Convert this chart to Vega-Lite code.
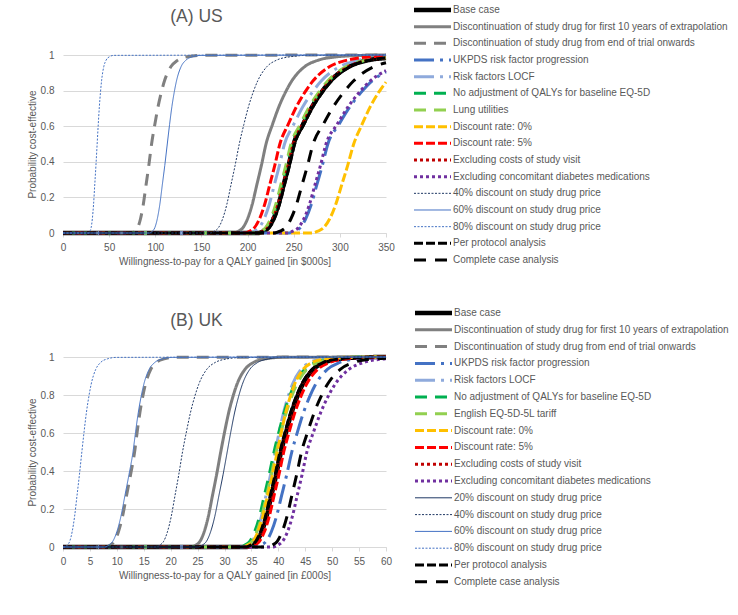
{
"$schema": "https://vega.github.io/schema/vega-lite/v6.json",
"background": "white",
"padding": {"left": 27, "top": 5, "right": 0, "bottom": 0},
"config": {
 "font": "Liberation Sans",
 "view": {"stroke": null},
 "axis": {"labelColor": "#595959", "titleColor": "#595959", "labelFont": "Liberation Sans", "titleFont": "Liberation Sans", "labelFontSize": 10, "titleFontSize": 10, "titleFontWeight": "normal", "gridColor": "#D9D9D9", "domainColor": "#D9D9D9", "tickColor": "#D9D9D9", "labelFlush": false},
 "title": {"color": "#595959", "fontSize": 17.5, "fontWeight": "normal", "font": "Liberation Sans"},
 "text": {"font": "Liberation Sans"},
 "line": {"interpolate": "monotone", "clip": true}
},
"datasets": {
"legA": [
{"k":"base","t":"Base case"},
{"k":"d10","t":"Discontinuation of study drug for first 10 years of extrapolation"},
{"k":"dend","t":"Discontinuation of study drug from end of trial onwards"},
{"k":"ukpds","t":"UKPDS risk factor progression"},
{"k":"locf","t":"Risk factors LOCF"},
{"k":"noadj","t":"No adjustment of QALYs for baseline EQ-5D"},
{"k":"lung","t":"Lung utilities"},
{"k":"dr0","t":"Discount rate: 0%"},
{"k":"dr5","t":"Discount rate: 5%"},
{"k":"exvis","t":"Excluding costs of study visit"},
{"k":"excon","t":"Excluding concomitant diabetes medications"},
{"k":"d40","t":"40% discount on study drug price"},
{"k":"d60","t":"60% discount on study drug price"},
{"k":"d80","t":"80% discount on study drug price"},
{"k":"pp","t":"Per protocol analysis"},
{"k":"cc","t":"Complete case analysis"}
],
"legB": [
{"k":"base","t":"Base case"},
{"k":"d10","t":"Discontinuation of study drug for first 10 years of extrapolation"},
{"k":"dend","t":"Discontinuation of study drug from end of trial onwards"},
{"k":"ukpds","t":"UKPDS risk factor progression"},
{"k":"locf","t":"Risk factors LOCF"},
{"k":"noadj","t":"No adjustment of QALYs for baseline EQ-5D"},
{"k":"eng","t":"English EQ-5D-5L tariff"},
{"k":"dr0","t":"Discount rate: 0%"},
{"k":"dr5","t":"Discount rate: 5%"},
{"k":"exvis","t":"Excluding costs of study visit"},
{"k":"excon","t":"Excluding concomitant diabetes medications"},
{"k":"d20","t":"20% discount on study drug price"},
{"k":"d40","t":"40% discount on study drug price"},
{"k":"d60","t":"60% discount on study drug price"},
{"k":"d80","t":"80% discount on study drug price"},
{"k":"pp","t":"Per protocol analysis"},
{"k":"cc","t":"Complete case analysis"}
],
"A": [
{"k":"base","x":0,"y":0},{"k":"base","x":211.5,"y":0},{"k":"base","x":217,"y":0.01},{"k":"base","x":222.5,"y":0.03},{"k":"base","x":228,"y":0.08},{"k":"base","x":233.5,"y":0.16},{"k":"base","x":239,"y":0.27},{"k":"base","x":244.5,"y":0.38},{"k":"base","x":250,"y":0.5},{"k":"base","x":260,"y":0.61},{"k":"base","x":270,"y":0.71},{"k":"base","x":280,"y":0.79},{"k":"base","x":290,"y":0.855},{"k":"base","x":310,"y":0.935},{"k":"base","x":330,"y":0.97},{"k":"base","x":350,"y":0.983},
{"k":"d10","x":0,"y":0},{"k":"d10","x":185,"y":0},{"k":"d10","x":190,"y":0.01},{"k":"d10","x":195,"y":0.03},{"k":"d10","x":200,"y":0.08},{"k":"d10","x":205,"y":0.16},{"k":"d10","x":210,"y":0.27},{"k":"d10","x":215,"y":0.38},{"k":"d10","x":220,"y":0.5},{"k":"d10","x":227,"y":0.61},{"k":"d10","x":234,"y":0.71},{"k":"d10","x":241,"y":0.79},{"k":"d10","x":248,"y":0.855},{"k":"d10","x":262,"y":0.935},{"k":"d10","x":276,"y":0.97},{"k":"d10","x":297,"y":0.99},{"k":"d10","x":325,"y":0.998},{"k":"d10","x":350,"y":1},
{"k":"dend","x":0,"y":0},{"k":"dend","x":75,"y":0},{"k":"dend","x":78,"y":0.01},{"k":"dend","x":81,"y":0.03},{"k":"dend","x":84,"y":0.08},{"k":"dend","x":87,"y":0.16},{"k":"dend","x":90,"y":0.27},{"k":"dend","x":93,"y":0.38},{"k":"dend","x":96,"y":0.5},{"k":"dend","x":99.5,"y":0.61},{"k":"dend","x":103,"y":0.71},{"k":"dend","x":106.5,"y":0.79},{"k":"dend","x":110,"y":0.855},{"k":"dend","x":117,"y":0.935},{"k":"dend","x":124,"y":0.97},{"k":"dend","x":134.5,"y":0.99},{"k":"dend","x":148.5,"y":0.998},{"k":"dend","x":350,"y":1},
{"k":"ukpds","x":0,"y":0},{"k":"ukpds","x":245,"y":0},{"k":"ukpds","x":251,"y":0.01},{"k":"ukpds","x":257,"y":0.03},{"k":"ukpds","x":263,"y":0.08},{"k":"ukpds","x":269,"y":0.16},{"k":"ukpds","x":275,"y":0.27},{"k":"ukpds","x":281,"y":0.38},{"k":"ukpds","x":287,"y":0.5},{"k":"ukpds","x":299,"y":0.61},{"k":"ukpds","x":311,"y":0.71},{"k":"ukpds","x":323,"y":0.79},{"k":"ukpds","x":335,"y":0.855},{"k":"ukpds","x":350,"y":0.905},
{"k":"locf","x":0,"y":0},{"k":"locf","x":201.5,"y":0},{"k":"locf","x":207,"y":0.01},{"k":"locf","x":212.5,"y":0.03},{"k":"locf","x":218,"y":0.08},{"k":"locf","x":223.5,"y":0.16},{"k":"locf","x":229,"y":0.27},{"k":"locf","x":234.5,"y":0.38},{"k":"locf","x":240,"y":0.5},{"k":"locf","x":250,"y":0.61},{"k":"locf","x":260,"y":0.71},{"k":"locf","x":270,"y":0.79},{"k":"locf","x":280,"y":0.855},{"k":"locf","x":300,"y":0.935},{"k":"locf","x":320,"y":0.97},{"k":"locf","x":350,"y":0.99},
{"k":"noadj","x":0,"y":0},{"k":"noadj","x":209.5,"y":0},{"k":"noadj","x":215,"y":0.01},{"k":"noadj","x":220.5,"y":0.03},{"k":"noadj","x":226,"y":0.08},{"k":"noadj","x":231.5,"y":0.16},{"k":"noadj","x":237,"y":0.27},{"k":"noadj","x":242.5,"y":0.38},{"k":"noadj","x":248,"y":0.5},{"k":"noadj","x":258,"y":0.61},{"k":"noadj","x":268,"y":0.71},{"k":"noadj","x":278,"y":0.79},{"k":"noadj","x":288,"y":0.855},{"k":"noadj","x":308,"y":0.935},{"k":"noadj","x":328,"y":0.97},{"k":"noadj","x":350,"y":0.985},
{"k":"lung","x":0,"y":0},{"k":"lung","x":208.5,"y":0},{"k":"lung","x":214,"y":0.01},{"k":"lung","x":219.5,"y":0.03},{"k":"lung","x":225,"y":0.08},{"k":"lung","x":230.5,"y":0.16},{"k":"lung","x":236,"y":0.27},{"k":"lung","x":241.5,"y":0.38},{"k":"lung","x":247,"y":0.5},{"k":"lung","x":257,"y":0.61},{"k":"lung","x":267,"y":0.71},{"k":"lung","x":277,"y":0.79},{"k":"lung","x":287,"y":0.855},{"k":"lung","x":307,"y":0.935},{"k":"lung","x":327,"y":0.97},{"k":"lung","x":350,"y":0.985},
{"k":"dr0","x":0,"y":0},{"k":"dr0","x":269.5,"y":0},{"k":"dr0","x":276,"y":0.01},{"k":"dr0","x":282.5,"y":0.03},{"k":"dr0","x":289,"y":0.08},{"k":"dr0","x":295.5,"y":0.16},{"k":"dr0","x":302,"y":0.27},{"k":"dr0","x":308.5,"y":0.38},{"k":"dr0","x":315,"y":0.5},{"k":"dr0","x":324,"y":0.61},{"k":"dr0","x":333,"y":0.71},{"k":"dr0","x":342,"y":0.79},{"k":"dr0","x":350,"y":0.848},
{"k":"dr5","x":0,"y":0},{"k":"dr5","x":196.5,"y":0},{"k":"dr5","x":202,"y":0.01},{"k":"dr5","x":207.5,"y":0.03},{"k":"dr5","x":213,"y":0.08},{"k":"dr5","x":218.5,"y":0.16},{"k":"dr5","x":224,"y":0.27},{"k":"dr5","x":229.5,"y":0.38},{"k":"dr5","x":235,"y":0.5},{"k":"dr5","x":244,"y":0.61},{"k":"dr5","x":253,"y":0.71},{"k":"dr5","x":262,"y":0.79},{"k":"dr5","x":271,"y":0.855},{"k":"dr5","x":289,"y":0.935},{"k":"dr5","x":307,"y":0.97},{"k":"dr5","x":334,"y":0.99},{"k":"dr5","x":350,"y":0.994},
{"k":"exvis","x":0,"y":0},{"k":"exvis","x":211,"y":0},{"k":"exvis","x":216.5,"y":0.01},{"k":"exvis","x":222,"y":0.03},{"k":"exvis","x":227.5,"y":0.08},{"k":"exvis","x":233,"y":0.16},{"k":"exvis","x":238.5,"y":0.27},{"k":"exvis","x":244,"y":0.38},{"k":"exvis","x":249.5,"y":0.5},{"k":"exvis","x":259.5,"y":0.61},{"k":"exvis","x":269.5,"y":0.71},{"k":"exvis","x":279.5,"y":0.79},{"k":"exvis","x":289.5,"y":0.855},{"k":"exvis","x":309.5,"y":0.935},{"k":"exvis","x":329.5,"y":0.97},{"k":"exvis","x":350,"y":0.984},
{"k":"excon","x":0,"y":0},{"k":"excon","x":243,"y":0},{"k":"excon","x":249,"y":0.01},{"k":"excon","x":255,"y":0.03},{"k":"excon","x":261,"y":0.08},{"k":"excon","x":267,"y":0.16},{"k":"excon","x":273,"y":0.27},{"k":"excon","x":279,"y":0.38},{"k":"excon","x":285,"y":0.5},{"k":"excon","x":297,"y":0.61},{"k":"excon","x":309,"y":0.71},{"k":"excon","x":321,"y":0.79},{"k":"excon","x":333,"y":0.855},{"k":"excon","x":350,"y":0.912},
{"k":"d40","x":0,"y":0},{"k":"d40","x":159.5,"y":0},{"k":"d40","x":164,"y":0.01},{"k":"d40","x":168.5,"y":0.03},{"k":"d40","x":173,"y":0.08},{"k":"d40","x":177.5,"y":0.16},{"k":"d40","x":182,"y":0.27},{"k":"d40","x":186.5,"y":0.38},{"k":"d40","x":191,"y":0.5},{"k":"d40","x":196,"y":0.61},{"k":"d40","x":201,"y":0.71},{"k":"d40","x":206,"y":0.79},{"k":"d40","x":211,"y":0.855},{"k":"d40","x":221,"y":0.935},{"k":"d40","x":231,"y":0.97},{"k":"d40","x":246,"y":0.99},{"k":"d40","x":266,"y":0.998},{"k":"d40","x":350,"y":1},
{"k":"d60","x":0,"y":0},{"k":"d60","x":94.1,"y":0},{"k":"d60","x":96.8,"y":0.01},{"k":"d60","x":99.5,"y":0.03},{"k":"d60","x":102.2,"y":0.08},{"k":"d60","x":104.9,"y":0.16},{"k":"d60","x":107.6,"y":0.27},{"k":"d60","x":110.3,"y":0.38},{"k":"d60","x":113,"y":0.5},{"k":"d60","x":115.5,"y":0.61},{"k":"d60","x":118,"y":0.71},{"k":"d60","x":120.5,"y":0.79},{"k":"d60","x":123,"y":0.855},{"k":"d60","x":128,"y":0.935},{"k":"d60","x":133,"y":0.97},{"k":"d60","x":140.5,"y":0.99},{"k":"d60","x":150.5,"y":0.998},{"k":"d60","x":350,"y":1},
{"k":"d80","x":0,"y":0},{"k":"d80","x":27.9,"y":0},{"k":"d80","x":29.2,"y":0.01},{"k":"d80","x":30.5,"y":0.03},{"k":"d80","x":31.8,"y":0.08},{"k":"d80","x":33.1,"y":0.16},{"k":"d80","x":34.4,"y":0.27},{"k":"d80","x":35.7,"y":0.38},{"k":"d80","x":37,"y":0.5},{"k":"d80","x":38.2,"y":0.61},{"k":"d80","x":39.4,"y":0.71},{"k":"d80","x":40.6,"y":0.79},{"k":"d80","x":41.8,"y":0.855},{"k":"d80","x":44.2,"y":0.935},{"k":"d80","x":46.6,"y":0.97},{"k":"d80","x":50.2,"y":0.99},{"k":"d80","x":55,"y":0.998},{"k":"d80","x":350,"y":1},
{"k":"pp","x":0,"y":0},{"k":"pp","x":212.5,"y":0},{"k":"pp","x":218,"y":0.01},{"k":"pp","x":223.5,"y":0.03},{"k":"pp","x":229,"y":0.08},{"k":"pp","x":234.5,"y":0.16},{"k":"pp","x":240,"y":0.27},{"k":"pp","x":245.5,"y":0.38},{"k":"pp","x":251,"y":0.5},{"k":"pp","x":261,"y":0.61},{"k":"pp","x":271,"y":0.71},{"k":"pp","x":281,"y":0.79},{"k":"pp","x":291,"y":0.855},{"k":"pp","x":311,"y":0.935},{"k":"pp","x":331,"y":0.97},{"k":"pp","x":350,"y":0.983},
{"k":"cc","x":0,"y":0},{"k":"cc","x":229,"y":0},{"k":"cc","x":235,"y":0.01},{"k":"cc","x":241,"y":0.03},{"k":"cc","x":247,"y":0.08},{"k":"cc","x":253,"y":0.16},{"k":"cc","x":259,"y":0.27},{"k":"cc","x":265,"y":0.38},{"k":"cc","x":271,"y":0.5},{"k":"cc","x":282,"y":0.61},{"k":"cc","x":293,"y":0.71},{"k":"cc","x":304,"y":0.79},{"k":"cc","x":315,"y":0.855},{"k":"cc","x":337,"y":0.935},{"k":"cc","x":350,"y":0.956}
],
"B": [
{"k":"base","x":0,"y":0},{"k":"base","x":34.2,"y":0},{"k":"base","x":35.1,"y":0.01},{"k":"base","x":36,"y":0.03},{"k":"base","x":36.9,"y":0.08},{"k":"base","x":37.8,"y":0.16},{"k":"base","x":38.7,"y":0.27},{"k":"base","x":39.6,"y":0.38},{"k":"base","x":40.5,"y":0.5},{"k":"base","x":41.5,"y":0.61},{"k":"base","x":42.5,"y":0.71},{"k":"base","x":43.5,"y":0.79},{"k":"base","x":44.5,"y":0.855},{"k":"base","x":46.5,"y":0.935},{"k":"base","x":48.5,"y":0.97},{"k":"base","x":51.5,"y":0.99},{"k":"base","x":55.5,"y":0.998},{"k":"base","x":60,"y":1},
{"k":"d10","x":0,"y":0},{"k":"d10","x":23.91,"y":0},{"k":"d10","x":24.68,"y":0.01},{"k":"d10","x":25.45,"y":0.03},{"k":"d10","x":26.22,"y":0.08},{"k":"d10","x":26.99,"y":0.16},{"k":"d10","x":27.76,"y":0.27},{"k":"d10","x":28.53,"y":0.38},{"k":"d10","x":29.3,"y":0.5},{"k":"d10","x":30.05,"y":0.61},{"k":"d10","x":30.8,"y":0.71},{"k":"d10","x":31.55,"y":0.79},{"k":"d10","x":32.3,"y":0.855},{"k":"d10","x":33.8,"y":0.935},{"k":"d10","x":35.3,"y":0.97},{"k":"d10","x":37.55,"y":0.99},{"k":"d10","x":40.55,"y":0.998},{"k":"d10","x":60,"y":1},
{"k":"dend","x":0,"y":0},{"k":"dend","x":8.05,"y":0},{"k":"dend","x":8.8,"y":0.01},{"k":"dend","x":9.55,"y":0.03},{"k":"dend","x":10.3,"y":0.08},{"k":"dend","x":11.05,"y":0.16},{"k":"dend","x":11.8,"y":0.27},{"k":"dend","x":12.55,"y":0.38},{"k":"dend","x":13.3,"y":0.5},{"k":"dend","x":13.8,"y":0.61},{"k":"dend","x":14.3,"y":0.71},{"k":"dend","x":14.8,"y":0.79},{"k":"dend","x":15.3,"y":0.855},{"k":"dend","x":16.3,"y":0.935},{"k":"dend","x":17.3,"y":0.97},{"k":"dend","x":18.8,"y":0.99},{"k":"dend","x":20.8,"y":0.998},{"k":"dend","x":60,"y":1},
{"k":"ukpds","x":0,"y":0},{"k":"ukpds","x":35.85,"y":0},{"k":"ukpds","x":36.8,"y":0.01},{"k":"ukpds","x":37.75,"y":0.03},{"k":"ukpds","x":38.7,"y":0.08},{"k":"ukpds","x":39.65,"y":0.16},{"k":"ukpds","x":40.6,"y":0.27},{"k":"ukpds","x":41.55,"y":0.38},{"k":"ukpds","x":42.5,"y":0.5},{"k":"ukpds","x":43.6,"y":0.61},{"k":"ukpds","x":44.7,"y":0.71},{"k":"ukpds","x":45.8,"y":0.79},{"k":"ukpds","x":46.9,"y":0.855},{"k":"ukpds","x":49.1,"y":0.935},{"k":"ukpds","x":51.3,"y":0.97},{"k":"ukpds","x":54.6,"y":0.99},{"k":"ukpds","x":59,"y":0.998},{"k":"ukpds","x":60,"y":1},
{"k":"locf","x":0,"y":0},{"k":"locf","x":33.45,"y":0},{"k":"locf","x":34.3,"y":0.01},{"k":"locf","x":35.15,"y":0.03},{"k":"locf","x":36,"y":0.08},{"k":"locf","x":36.85,"y":0.16},{"k":"locf","x":37.7,"y":0.27},{"k":"locf","x":38.55,"y":0.38},{"k":"locf","x":39.4,"y":0.5},{"k":"locf","x":40.2,"y":0.61},{"k":"locf","x":41,"y":0.71},{"k":"locf","x":41.8,"y":0.79},{"k":"locf","x":42.6,"y":0.855},{"k":"locf","x":44.2,"y":0.935},{"k":"locf","x":45.8,"y":0.97},{"k":"locf","x":48.2,"y":0.99},{"k":"locf","x":51.4,"y":0.998},{"k":"locf","x":60,"y":1},
{"k":"noadj","x":0,"y":0},{"k":"noadj","x":32.9,"y":0},{"k":"noadj","x":33.8,"y":0.01},{"k":"noadj","x":34.7,"y":0.03},{"k":"noadj","x":35.6,"y":0.08},{"k":"noadj","x":36.5,"y":0.16},{"k":"noadj","x":37.4,"y":0.27},{"k":"noadj","x":38.3,"y":0.38},{"k":"noadj","x":39.2,"y":0.5},{"k":"noadj","x":40.15,"y":0.61},{"k":"noadj","x":41.1,"y":0.71},{"k":"noadj","x":42.05,"y":0.79},{"k":"noadj","x":43,"y":0.855},{"k":"noadj","x":44.9,"y":0.935},{"k":"noadj","x":46.8,"y":0.97},{"k":"noadj","x":49.65,"y":0.99},{"k":"noadj","x":53.45,"y":0.998},{"k":"noadj","x":60,"y":1},
{"k":"eng","x":0,"y":0},{"k":"eng","x":33.3,"y":0},{"k":"eng","x":34.2,"y":0.01},{"k":"eng","x":35.1,"y":0.03},{"k":"eng","x":36,"y":0.08},{"k":"eng","x":36.9,"y":0.16},{"k":"eng","x":37.8,"y":0.27},{"k":"eng","x":38.7,"y":0.38},{"k":"eng","x":39.6,"y":0.5},{"k":"eng","x":40.55,"y":0.61},{"k":"eng","x":41.5,"y":0.71},{"k":"eng","x":42.45,"y":0.79},{"k":"eng","x":43.4,"y":0.855},{"k":"eng","x":45.3,"y":0.935},{"k":"eng","x":47.2,"y":0.97},{"k":"eng","x":50.05,"y":0.99},{"k":"eng","x":53.85,"y":0.998},{"k":"eng","x":60,"y":1},
{"k":"dr0","x":0,"y":0},{"k":"dr0","x":33.5,"y":0},{"k":"dr0","x":34.4,"y":0.01},{"k":"dr0","x":35.3,"y":0.03},{"k":"dr0","x":36.2,"y":0.08},{"k":"dr0","x":37.1,"y":0.16},{"k":"dr0","x":38,"y":0.27},{"k":"dr0","x":38.9,"y":0.38},{"k":"dr0","x":39.8,"y":0.5},{"k":"dr0","x":40.6,"y":0.61},{"k":"dr0","x":41.4,"y":0.71},{"k":"dr0","x":42.2,"y":0.79},{"k":"dr0","x":43,"y":0.855},{"k":"dr0","x":44.6,"y":0.935},{"k":"dr0","x":46.2,"y":0.97},{"k":"dr0","x":48.6,"y":0.99},{"k":"dr0","x":51.8,"y":0.998},{"k":"dr0","x":60,"y":1},
{"k":"dr5","x":0,"y":0},{"k":"dr5","x":34.7,"y":0},{"k":"dr5","x":35.6,"y":0.01},{"k":"dr5","x":36.5,"y":0.03},{"k":"dr5","x":37.4,"y":0.08},{"k":"dr5","x":38.3,"y":0.16},{"k":"dr5","x":39.2,"y":0.27},{"k":"dr5","x":40.1,"y":0.38},{"k":"dr5","x":41,"y":0.5},{"k":"dr5","x":42.05,"y":0.61},{"k":"dr5","x":43.1,"y":0.71},{"k":"dr5","x":44.15,"y":0.79},{"k":"dr5","x":45.2,"y":0.855},{"k":"dr5","x":47.3,"y":0.935},{"k":"dr5","x":49.4,"y":0.97},{"k":"dr5","x":52.55,"y":0.99},{"k":"dr5","x":56.75,"y":0.998},{"k":"dr5","x":60,"y":1},
{"k":"exvis","x":0,"y":0},{"k":"exvis","x":34.1,"y":0},{"k":"exvis","x":35,"y":0.01},{"k":"exvis","x":35.9,"y":0.03},{"k":"exvis","x":36.8,"y":0.08},{"k":"exvis","x":37.7,"y":0.16},{"k":"exvis","x":38.6,"y":0.27},{"k":"exvis","x":39.5,"y":0.38},{"k":"exvis","x":40.4,"y":0.5},{"k":"exvis","x":41.4,"y":0.61},{"k":"exvis","x":42.4,"y":0.71},{"k":"exvis","x":43.4,"y":0.79},{"k":"exvis","x":44.4,"y":0.855},{"k":"exvis","x":46.4,"y":0.935},{"k":"exvis","x":48.4,"y":0.97},{"k":"exvis","x":51.4,"y":0.99},{"k":"exvis","x":55.4,"y":0.998},{"k":"exvis","x":60,"y":1},
{"k":"excon","x":0,"y":0},{"k":"excon","x":39,"y":0},{"k":"excon","x":39.9,"y":0.01},{"k":"excon","x":40.8,"y":0.03},{"k":"excon","x":41.7,"y":0.08},{"k":"excon","x":42.6,"y":0.16},{"k":"excon","x":43.5,"y":0.27},{"k":"excon","x":44.4,"y":0.38},{"k":"excon","x":45.3,"y":0.5},{"k":"excon","x":46.6,"y":0.61},{"k":"excon","x":47.9,"y":0.71},{"k":"excon","x":49.2,"y":0.79},{"k":"excon","x":50.5,"y":0.855},{"k":"excon","x":53.1,"y":0.935},{"k":"excon","x":55.7,"y":0.97},{"k":"excon","x":59.6,"y":0.99},{"k":"excon","x":60,"y":0.991},
{"k":"d20","x":0,"y":0},{"k":"d20","x":25.11,"y":0},{"k":"d20","x":25.88,"y":0.01},{"k":"d20","x":26.65,"y":0.03},{"k":"d20","x":27.42,"y":0.08},{"k":"d20","x":28.19,"y":0.16},{"k":"d20","x":28.96,"y":0.27},{"k":"d20","x":29.73,"y":0.38},{"k":"d20","x":30.5,"y":0.5},{"k":"d20","x":31.2,"y":0.61},{"k":"d20","x":31.9,"y":0.71},{"k":"d20","x":32.6,"y":0.79},{"k":"d20","x":33.3,"y":0.855},{"k":"d20","x":34.7,"y":0.935},{"k":"d20","x":36.1,"y":0.97},{"k":"d20","x":38.2,"y":0.99},{"k":"d20","x":41,"y":0.998},{"k":"d20","x":60,"y":1},
{"k":"d40","x":0,"y":0},{"k":"d40","x":17.3,"y":0},{"k":"d40","x":18,"y":0.01},{"k":"d40","x":18.7,"y":0.03},{"k":"d40","x":19.4,"y":0.08},{"k":"d40","x":20.1,"y":0.16},{"k":"d40","x":20.8,"y":0.27},{"k":"d40","x":21.5,"y":0.38},{"k":"d40","x":22.2,"y":0.5},{"k":"d40","x":22.95,"y":0.61},{"k":"d40","x":23.7,"y":0.71},{"k":"d40","x":24.45,"y":0.79},{"k":"d40","x":25.2,"y":0.855},{"k":"d40","x":26.7,"y":0.935},{"k":"d40","x":28.2,"y":0.97},{"k":"d40","x":30.45,"y":0.99},{"k":"d40","x":33.45,"y":0.998},{"k":"d40","x":60,"y":1},
{"k":"d60","x":0,"y":0},{"k":"d60","x":7.75,"y":0},{"k":"d60","x":8.5,"y":0.01},{"k":"d60","x":9.25,"y":0.03},{"k":"d60","x":10,"y":0.08},{"k":"d60","x":10.75,"y":0.16},{"k":"d60","x":11.5,"y":0.27},{"k":"d60","x":12.25,"y":0.38},{"k":"d60","x":13,"y":0.5},{"k":"d60","x":13.5,"y":0.61},{"k":"d60","x":14,"y":0.71},{"k":"d60","x":14.5,"y":0.79},{"k":"d60","x":15,"y":0.855},{"k":"d60","x":16,"y":0.935},{"k":"d60","x":17,"y":0.97},{"k":"d60","x":18.5,"y":0.99},{"k":"d60","x":20.5,"y":0.998},{"k":"d60","x":60,"y":1},
{"k":"d80","x":0,"y":0},{"k":"d80","x":0.35,"y":0},{"k":"d80","x":0.8,"y":0.01},{"k":"d80","x":1.25,"y":0.03},{"k":"d80","x":1.7,"y":0.08},{"k":"d80","x":2.15,"y":0.16},{"k":"d80","x":2.6,"y":0.27},{"k":"d80","x":3.05,"y":0.38},{"k":"d80","x":3.5,"y":0.5},{"k":"d80","x":3.93,"y":0.61},{"k":"d80","x":4.36,"y":0.71},{"k":"d80","x":4.79,"y":0.79},{"k":"d80","x":5.22,"y":0.855},{"k":"d80","x":6.08,"y":0.935},{"k":"d80","x":6.94,"y":0.97},{"k":"d80","x":8.23,"y":0.99},{"k":"d80","x":9.95,"y":0.998},{"k":"d80","x":60,"y":1},
{"k":"pp","x":0,"y":0},{"k":"pp","x":34,"y":0},{"k":"pp","x":34.9,"y":0.01},{"k":"pp","x":35.8,"y":0.03},{"k":"pp","x":36.7,"y":0.08},{"k":"pp","x":37.6,"y":0.16},{"k":"pp","x":38.5,"y":0.27},{"k":"pp","x":39.4,"y":0.38},{"k":"pp","x":40.3,"y":0.5},{"k":"pp","x":41.3,"y":0.61},{"k":"pp","x":42.3,"y":0.71},{"k":"pp","x":43.3,"y":0.79},{"k":"pp","x":44.3,"y":0.855},{"k":"pp","x":46.3,"y":0.935},{"k":"pp","x":48.3,"y":0.97},{"k":"pp","x":51.3,"y":0.99},{"k":"pp","x":55.3,"y":0.998},{"k":"pp","x":60,"y":1},
{"k":"cc","x":0,"y":0},{"k":"cc","x":38,"y":0},{"k":"cc","x":38.9,"y":0.01},{"k":"cc","x":39.8,"y":0.03},{"k":"cc","x":40.7,"y":0.08},{"k":"cc","x":41.6,"y":0.16},{"k":"cc","x":42.5,"y":0.27},{"k":"cc","x":43.4,"y":0.38},{"k":"cc","x":44.3,"y":0.5},{"k":"cc","x":45.5,"y":0.61},{"k":"cc","x":46.7,"y":0.71},{"k":"cc","x":47.9,"y":0.79},{"k":"cc","x":49.1,"y":0.855},{"k":"cc","x":51.5,"y":0.935},{"k":"cc","x":53.9,"y":0.97},{"k":"cc","x":57.5,"y":0.99},{"k":"cc","x":60,"y":0.994}
]
},
"spacing": 42,
"resolve": {"scale": {"x": "independent", "y": "independent", "color": "independent", "strokeDash": "independent"}},
"vconcat": [
{
 "spacing": 16,
 "resolve": {"scale": {"x": "independent", "y": "independent", "color": "independent", "strokeDash": "independent"}},
 "hconcat": [
  {
   "width": 323, "height": 178,
   "title": {"text": "(A) US", "offset": 23.5, "frame": "group", "anchor": "middle", "dx": -28},
   "data": {"name": "A"},
   "encoding": {
    "x": {"field": "x", "type": "quantitative", "scale": {"domain": [0, 350], "nice": false}, "axis": {"values": [0,50,100,150,200,250,300,350], "grid": false, "tickSize": 4, "labelPadding": 5, "titlePadding": 4, "title": "Willingness-to-pay for a QALY gained [in $000s]"}},
    "y": {"field": "y", "type": "quantitative", "scale": {"domain": [0, 1], "nice": false}, "axis": {"values": [0,0.2,0.4,0.6,0.8,1], "format": "~g", "grid": true, "domain": false, "ticks": false, "labelPadding": 9, "titlePadding": 3, "title": "Probability cost-effective"}},
    "color": {"field": "k", "type": "nominal", "legend": null, "scale": {"domain": ["base","d10","dend","ukpds","locf","noadj","lung","eng","dr0","dr5","exvis","excon","d20","d40","d60","d80","pp","cc"], "range": ["#000000","#808080","#808080","#4472C4","#8FAADC","#00B050","#92D050","#92D050","#FFC000","#FF0000","#C00000","#7030A0","#1F3864","#1F3864","#4472C4","#4472C4","#000000","#000000"]}},
    "strokeDash": {"field": "k", "type": "nominal", "legend": null, "scale": {"domain": ["base","d10","dend","ukpds","locf","noadj","lung","eng","dr0","dr5","exvis","excon","d20","d40","d60","d80","pp","cc"], "range": [[1,0],[1,0],[12,8],[20,6,3,6],[20,6,3,6],[12,8],[12,8],[12,8],[9,3],[9,3],[3,3],[3,3],[1,0],[2,1.5],[1,0],[2,1.5],[9,3],[12,9]]}}
   },
   "layer": [
    {"transform": [{"filter": "datum.k === 'base'"}], "mark": {"type": "line", "strokeWidth": 4.5}},
    {"transform": [{"filter": {"field": "k", "oneOf": ["d10","dend","ukpds","locf","noadj","lung","eng","dr0","dr5","exvis","excon","pp","cc"]}}], "mark": {"type": "line", "strokeWidth": 3}},
    {"transform": [{"filter": {"field": "k", "oneOf": ["d20","d40","d60","d80"]}}], "mark": {"type": "line", "strokeWidth": 1}}
   ]
  },
  {
   "width": 37, "height": 178,
   "data": {"name": "legA"},
   "encoding": {
    "y": {"field": "k", "type": "nominal", "axis": null, "scale": {"domain": ["base","d10","dend","ukpds","locf","noadj","lung","dr0","dr5","exvis","excon","d40","d60","d80","pp","cc"], "range": [-53.33, 213.33]}},
    "x": {"datum": 0, "type": "quantitative", "scale": {"domain": [0, 1], "nice": false}, "axis": null}
   },
   "layer": [
    {"transform": [{"filter": "datum.k === 'base'"}], "mark": {"type": "rule", "strokeWidth": 4.5},
     "encoding": {"x2": {"datum": 1},
      "color": {"field": "k", "type": "nominal", "legend": null, "scale": {"domain": ["base","d10","dend","ukpds","locf","noadj","lung","eng","dr0","dr5","exvis","excon","d20","d40","d60","d80","pp","cc"], "range": ["#000000","#808080","#808080","#4472C4","#8FAADC","#00B050","#92D050","#92D050","#FFC000","#FF0000","#C00000","#7030A0","#1F3864","#1F3864","#4472C4","#4472C4","#000000","#000000"]}},
      "strokeDash": {"field": "k", "type": "nominal", "legend": null, "scale": {"domain": ["base","d10","dend","ukpds","locf","noadj","lung","eng","dr0","dr5","exvis","excon","d20","d40","d60","d80","pp","cc"], "range": [[1,0],[1,0],[12,8],[20,6,3,6],[20,6,3,6],[12,8],[12,8],[12,8],[9,3],[9,3],[3,3],[3,3],[1,0],[2,1.5],[1,0],[2,1.5],[9,3],[12,9]]}}}},
    {"transform": [{"filter": {"field": "k", "oneOf": ["d10","dend","ukpds","locf","noadj","lung","eng","dr0","dr5","exvis","excon","pp","cc"]}}], "mark": {"type": "rule", "strokeWidth": 3},
     "encoding": {"x2": {"datum": 1},
      "color": {"field": "k", "type": "nominal", "legend": null},
      "strokeDash": {"field": "k", "type": "nominal", "legend": null}}},
    {"transform": [{"filter": {"field": "k", "oneOf": ["d20","d40","d60","d80"]}}], "mark": {"type": "rule", "strokeWidth": 1},
     "encoding": {"x2": {"datum": 1},
      "color": {"field": "k", "type": "nominal", "legend": null},
      "strokeDash": {"field": "k", "type": "nominal", "legend": null}}},
    {"mark": {"type": "text", "align": "left", "baseline": "middle", "dx": 2, "fontSize": 10, "color": "#595959"},
     "encoding": {"x": {"datum": 1, "type": "quantitative"}, "text": {"field": "t"}}}
   ]
  }
 ]
},
{
 "spacing": 17,
 "resolve": {"scale": {"x": "independent", "y": "independent", "color": "independent", "strokeDash": "independent"}},
 "hconcat": [
  {
   "width": 323, "height": 190,
   "title": {"text": "(B) UK", "offset": 18.5, "frame": "group", "anchor": "middle", "dx": -28},
   "data": {"name": "B"},
   "encoding": {
    "x": {"field": "x", "type": "quantitative", "scale": {"domain": [0, 60], "nice": false}, "axis": {"values": [0,5,10,15,20,25,30,35,40,45,50,55,60], "grid": false, "tickSize": 4, "labelPadding": 5, "titlePadding": 4, "title": "Willingness-to-pay for a QALY gained [in £000s]"}},
    "y": {"field": "y", "type": "quantitative", "scale": {"domain": [0, 1], "nice": false}, "axis": {"values": [0,0.2,0.4,0.6,0.8,1], "format": "~g", "grid": true, "domain": false, "ticks": false, "labelPadding": 9, "titlePadding": 3, "title": "Probability cost-effective"}},
    "color": {"field": "k", "type": "nominal", "legend": null, "scale": {"domain": ["base","d10","dend","ukpds","locf","noadj","lung","eng","dr0","dr5","exvis","excon","d20","d40","d60","d80","pp","cc"], "range": ["#000000","#808080","#808080","#4472C4","#8FAADC","#00B050","#92D050","#92D050","#FFC000","#FF0000","#C00000","#7030A0","#1F3864","#1F3864","#4472C4","#4472C4","#000000","#000000"]}},
    "strokeDash": {"field": "k", "type": "nominal", "legend": null, "scale": {"domain": ["base","d10","dend","ukpds","locf","noadj","lung","eng","dr0","dr5","exvis","excon","d20","d40","d60","d80","pp","cc"], "range": [[1,0],[1,0],[12,8],[20,6,3,6],[20,6,3,6],[12,8],[12,8],[12,8],[9,3],[9,3],[3,3],[3,3],[1,0],[2,1.5],[1,0],[2,1.5],[9,3],[12,9]]}}
   },
   "layer": [
    {"transform": [{"filter": "datum.k === 'base'"}], "mark": {"type": "line", "strokeWidth": 4.5}},
    {"transform": [{"filter": {"field": "k", "oneOf": ["d10","dend","ukpds","locf","noadj","lung","eng","dr0","dr5","exvis","excon","pp","cc"]}}], "mark": {"type": "line", "strokeWidth": 3}},
    {"transform": [{"filter": {"field": "k", "oneOf": ["d20","d40","d60","d80"]}}], "mark": {"type": "line", "strokeWidth": 1}}
   ]
  },
  {
   "width": 37, "height": 190,
   "data": {"name": "legB"},
   "encoding": {
    "y": {"field": "k", "type": "nominal", "axis": null, "scale": {"domain": ["base","d10","dend","ukpds","locf","noadj","eng","dr0","dr5","exvis","excon","d20","d40","d60","d80","pp","cc"], "range": [-52.4, 233.2]}},
    "x": {"datum": 0, "type": "quantitative", "scale": {"domain": [0, 1], "nice": false}, "axis": null}
   },
   "layer": [
    {"transform": [{"filter": "datum.k === 'base'"}], "mark": {"type": "rule", "strokeWidth": 4.5},
     "encoding": {"x2": {"datum": 1},
      "color": {"field": "k", "type": "nominal", "legend": null, "scale": {"domain": ["base","d10","dend","ukpds","locf","noadj","lung","eng","dr0","dr5","exvis","excon","d20","d40","d60","d80","pp","cc"], "range": ["#000000","#808080","#808080","#4472C4","#8FAADC","#00B050","#92D050","#92D050","#FFC000","#FF0000","#C00000","#7030A0","#1F3864","#1F3864","#4472C4","#4472C4","#000000","#000000"]}},
      "strokeDash": {"field": "k", "type": "nominal", "legend": null, "scale": {"domain": ["base","d10","dend","ukpds","locf","noadj","lung","eng","dr0","dr5","exvis","excon","d20","d40","d60","d80","pp","cc"], "range": [[1,0],[1,0],[12,8],[20,6,3,6],[20,6,3,6],[12,8],[12,8],[12,8],[9,3],[9,3],[3,3],[3,3],[1,0],[2,1.5],[1,0],[2,1.5],[9,3],[12,9]]}}}},
    {"transform": [{"filter": {"field": "k", "oneOf": ["d10","dend","ukpds","locf","noadj","lung","eng","dr0","dr5","exvis","excon","pp","cc"]}}], "mark": {"type": "rule", "strokeWidth": 3},
     "encoding": {"x2": {"datum": 1},
      "color": {"field": "k", "type": "nominal", "legend": null},
      "strokeDash": {"field": "k", "type": "nominal", "legend": null}}},
    {"transform": [{"filter": {"field": "k", "oneOf": ["d20","d40","d60","d80"]}}], "mark": {"type": "rule", "strokeWidth": 1},
     "encoding": {"x2": {"datum": 1},
      "color": {"field": "k", "type": "nominal", "legend": null},
      "strokeDash": {"field": "k", "type": "nominal", "legend": null}}},
    {"mark": {"type": "text", "align": "left", "baseline": "middle", "dx": 2, "fontSize": 10, "color": "#595959"},
     "encoding": {"x": {"datum": 1, "type": "quantitative"}, "text": {"field": "t"}}}
   ]
  }
 ]
}
]
}
